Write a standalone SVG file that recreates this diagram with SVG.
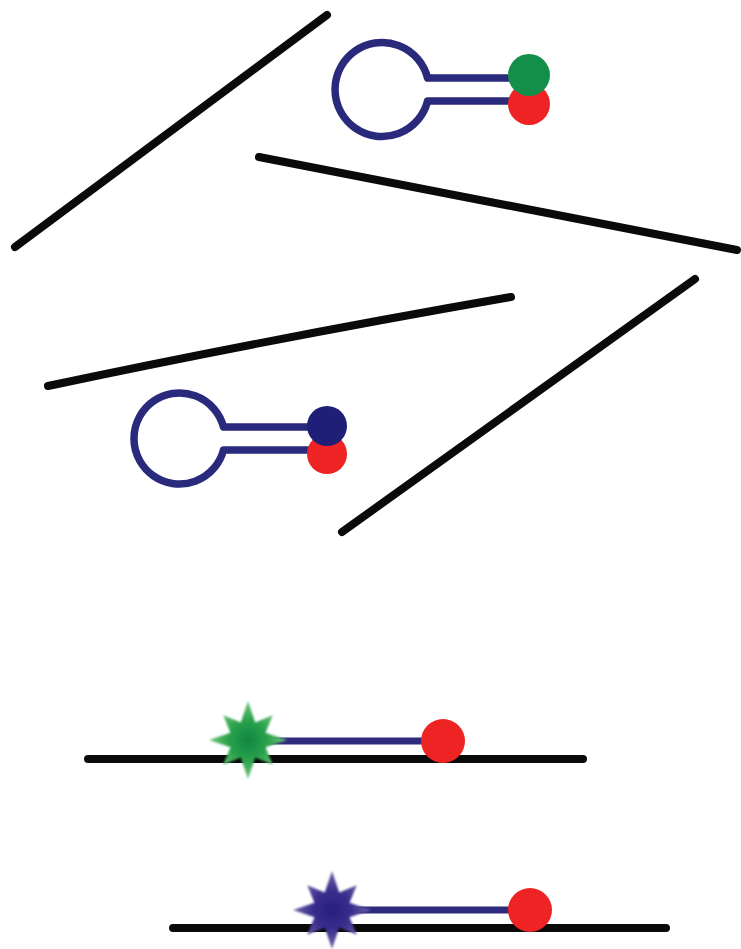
<svg xmlns="http://www.w3.org/2000/svg" width="741" height="949" viewBox="0 0 741 949">
  <style>
    .strand { fill: none; stroke: #0a0a0a; stroke-width: 8; stroke-linecap: round; }
    .probe { fill: none; stroke: #2a2a7c; stroke-width: 7.5; stroke-linejoin: round; }
    .stem { fill: none; stroke: #2e2b7e; stroke-width: 7; }
    .quencher { fill: #ee2424; }
    .fam { fill: #138f49; }
    .dye2 { fill: #1f1f78; }
  </style>
  <defs>
    <!-- eight-pointed emission burst, centred on the origin: long axial spikes, shorter diagonals -->
    <path id="burst" d="M39 0 L17.55 7.27 L24.75 24.75 L7.27 17.55 L0 39 L-7.27 17.55 L-24.75 24.75 L-17.55 7.27 L-39 0 L-17.55 -7.27 L-24.75 -24.75 L-7.27 -17.55 L0 -39 L7.27 -17.55 L24.75 -24.75 L17.55 -7.27 Z"/>
    <radialGradient id="greenGlow">
      <stop offset="0" stop-color="#0f8540"/>
      <stop offset="0.5" stop-color="#2aa24c"/>
      <stop offset="1" stop-color="#72c47a"/>
    </radialGradient>
    <radialGradient id="blueGlow">
      <stop offset="0" stop-color="#261f7e"/>
      <stop offset="0.5" stop-color="#3a2e8c"/>
      <stop offset="1" stop-color="#6f64aa"/>
    </radialGradient>
    <filter id="soft" x="-20%" y="-20%" width="140%" height="140%">
      <feGaussianBlur stdDeviation="1.2"/>
    </filter>
  </defs>

  <rect width="741" height="949" fill="#ffffff"/>

  <!-- target strands floating free -->
  <g id="strands">
    <line class="strand" x1="15" y1="247" x2="327" y2="15"/>
    <line class="strand" x1="259" y1="157" x2="737" y2="250"/>
    <path class="strand" d="M48 386 Q270 339 511 297"/>
    <line class="strand" x1="342" y1="532" x2="695" y2="279"/>
  </g>

  <!-- closed hairpin probe, green reporter -->
  <g id="hairpin-green">
    <path class="probe" d="M512 78 H427.6 A47 47 0 1 0 427.6 101 H512"/>
    <circle class="quencher" cx="529" cy="104" r="21"/>
    <circle class="fam" cx="529" cy="75" r="21"/>
  </g>

  <!-- closed hairpin probe, blue reporter -->
  <g id="hairpin-blue">
    <path class="probe" d="M312 427 H223.5 A45.5 45.5 0 1 0 223.5 450 H312"/>
    <circle class="quencher" cx="327" cy="454" r="20"/>
    <circle class="dye2" cx="327" cy="426" r="20"/>
  </g>

  <!-- opened probe bound to its target, green signal -->
  <g id="bound-green">
    <line class="strand" x1="88" y1="759" x2="583" y2="759"/>
    <line class="stem" x1="250" y1="741" x2="440" y2="741"/>
    <circle class="quencher" cx="443" cy="741" r="22"/>
    <use href="#burst" x="248" y="740" fill="url(#greenGlow)" filter="url(#soft)"/>
  </g>

  <!-- opened probe bound to its target, blue signal -->
  <g id="bound-blue">
    <line class="strand" x1="173" y1="928" x2="666" y2="928"/>
    <line class="stem" x1="333" y1="910" x2="525" y2="910"/>
    <circle class="quencher" cx="530" cy="910" r="22"/>
    <use href="#burst" x="332" y="910" fill="url(#blueGlow)" filter="url(#soft)"/>
  </g>
</svg>
